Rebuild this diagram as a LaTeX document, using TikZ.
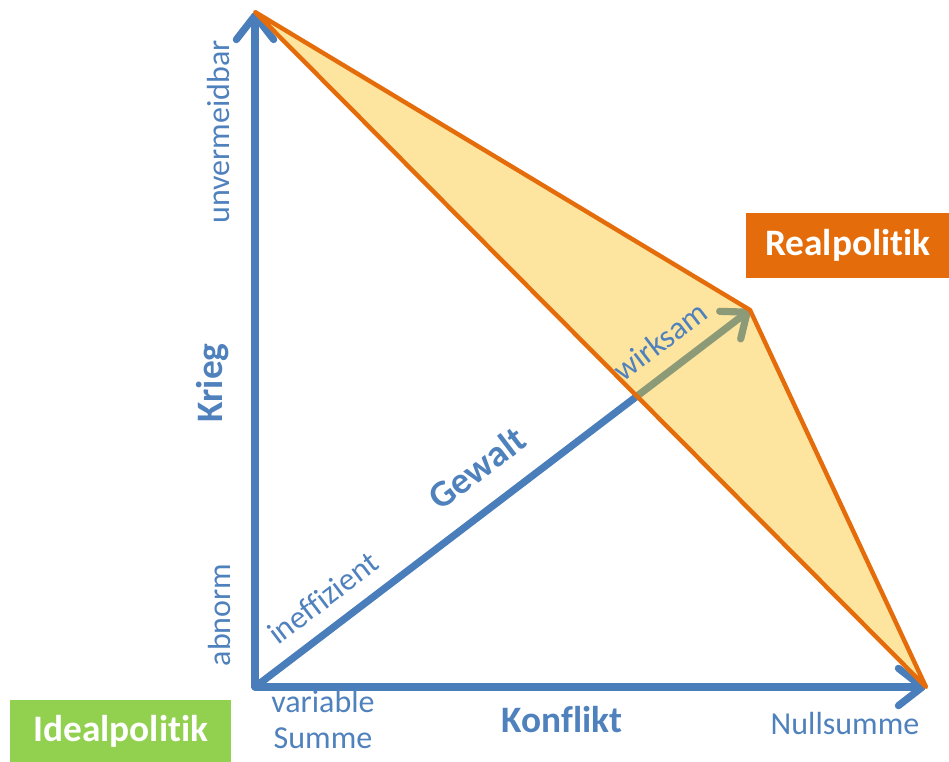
\documentclass[tikz,border=0pt]{standalone}
\usepackage{fontspec}
\setmainfont{Carlito}[Ligatures=NoCommon]
\usetikzlibrary{arrows.meta}
\definecolor{axisblue}{HTML}{4A7EBB}
\definecolor{textblue}{HTML}{4F81BD}
\definecolor{realorange}{HTML}{E46C0A}
\definecolor{zonefill}{HTML}{FDE5A0}
\definecolor{idealgreen}{HTML}{92D050}
\definecolor{effgreen}{HTML}{8C9A78}
\tikzset{
  axis/.style={draw=axisblue, line width=5.4pt, line cap=round,
    -{Straight Barb[round, length=18pt, width=28pt, line width=5.4pt]}},
  edge/.style={draw=realorange, line width=3.3pt, line join=round},
  lbl/.style={text=textblue, inner sep=0pt, font=\fontsize{24}{28}\selectfont},
  bigl/.style={text=textblue, inner sep=0pt, font=\fontsize{28}{32}\selectfont\bfseries},
  tag/.style={text=white, inner sep=0pt, font=\fontsize{28}{32}\selectfont\bfseries}
}
\begin{document}
\begin{tikzpicture}[x=0.75pt, y=-0.75pt]
\useasboundingbox (0,0) rectangle (949,762);

% key points
\coordinate (O) at (255,687);
\coordinate (Ytop) at (255,12);
\coordinate (Xend) at (926,687);
\coordinate (P) at (750,310);
\coordinate (M) at (intersection of O--P and Ytop--Xend);

% realpolitik zone
\fill[zonefill] (Ytop) -- (P) -- (Xend) -- cycle;

% axes
\draw[axis] (O) -- (Ytop);
\draw[axis] (O) -- (Xend);

% force vector: ineffective part, then effective part
\draw[draw=axisblue, line width=5.4pt] (O) -- (M);
\draw[draw=effgreen, line width=5.4pt,
  -{Straight Barb[round, length=16pt, width=26pt, line width=5.4pt]}] (M) -- (P);

% zone edges
\draw[edge] (Ytop) -- (P) -- (Xend) -- cycle;

% axis labels
\node[bigl, rotate=90] (krieg) at (213,383) {Krieg};
\node[lbl, rotate=90] (unverm) at (219,132) {unvermeidbar};
\node[lbl, rotate=90] (abnorm) at (220,615) {abnorm};
\node[bigl] (konflikt) at (562,720) {Konflikt};
\node[lbl, align=center, font=\fontsize{24}{27}\selectfont] (varsum) at (323,720) {variable\\Summe};
\node[lbl] (nullsum) at (845,724) {Nullsumme};

% vector labels
\node[bigl, rotate=37.3] (gewalt) at (477,468) {Gewalt};
\node[lbl, rotate=37.3] (ineff) at (323,598) {ineffizient};
\node[lbl, rotate=37.3] (wirk) at (660,341) {wirksam};

% tags
\node[fill=realorange, minimum width=203*0.75pt, minimum height=65*0.75pt, inner sep=0pt,
  anchor=north west, tag] (real) at (746,213) {Realpolitik};
\node[fill=idealgreen, minimum width=221*0.75pt, minimum height=62*0.75pt, inner sep=0pt,
  anchor=north west, tag] (ideal) at (10,700) {Idealpolitik};
\end{tikzpicture}
\end{document}
